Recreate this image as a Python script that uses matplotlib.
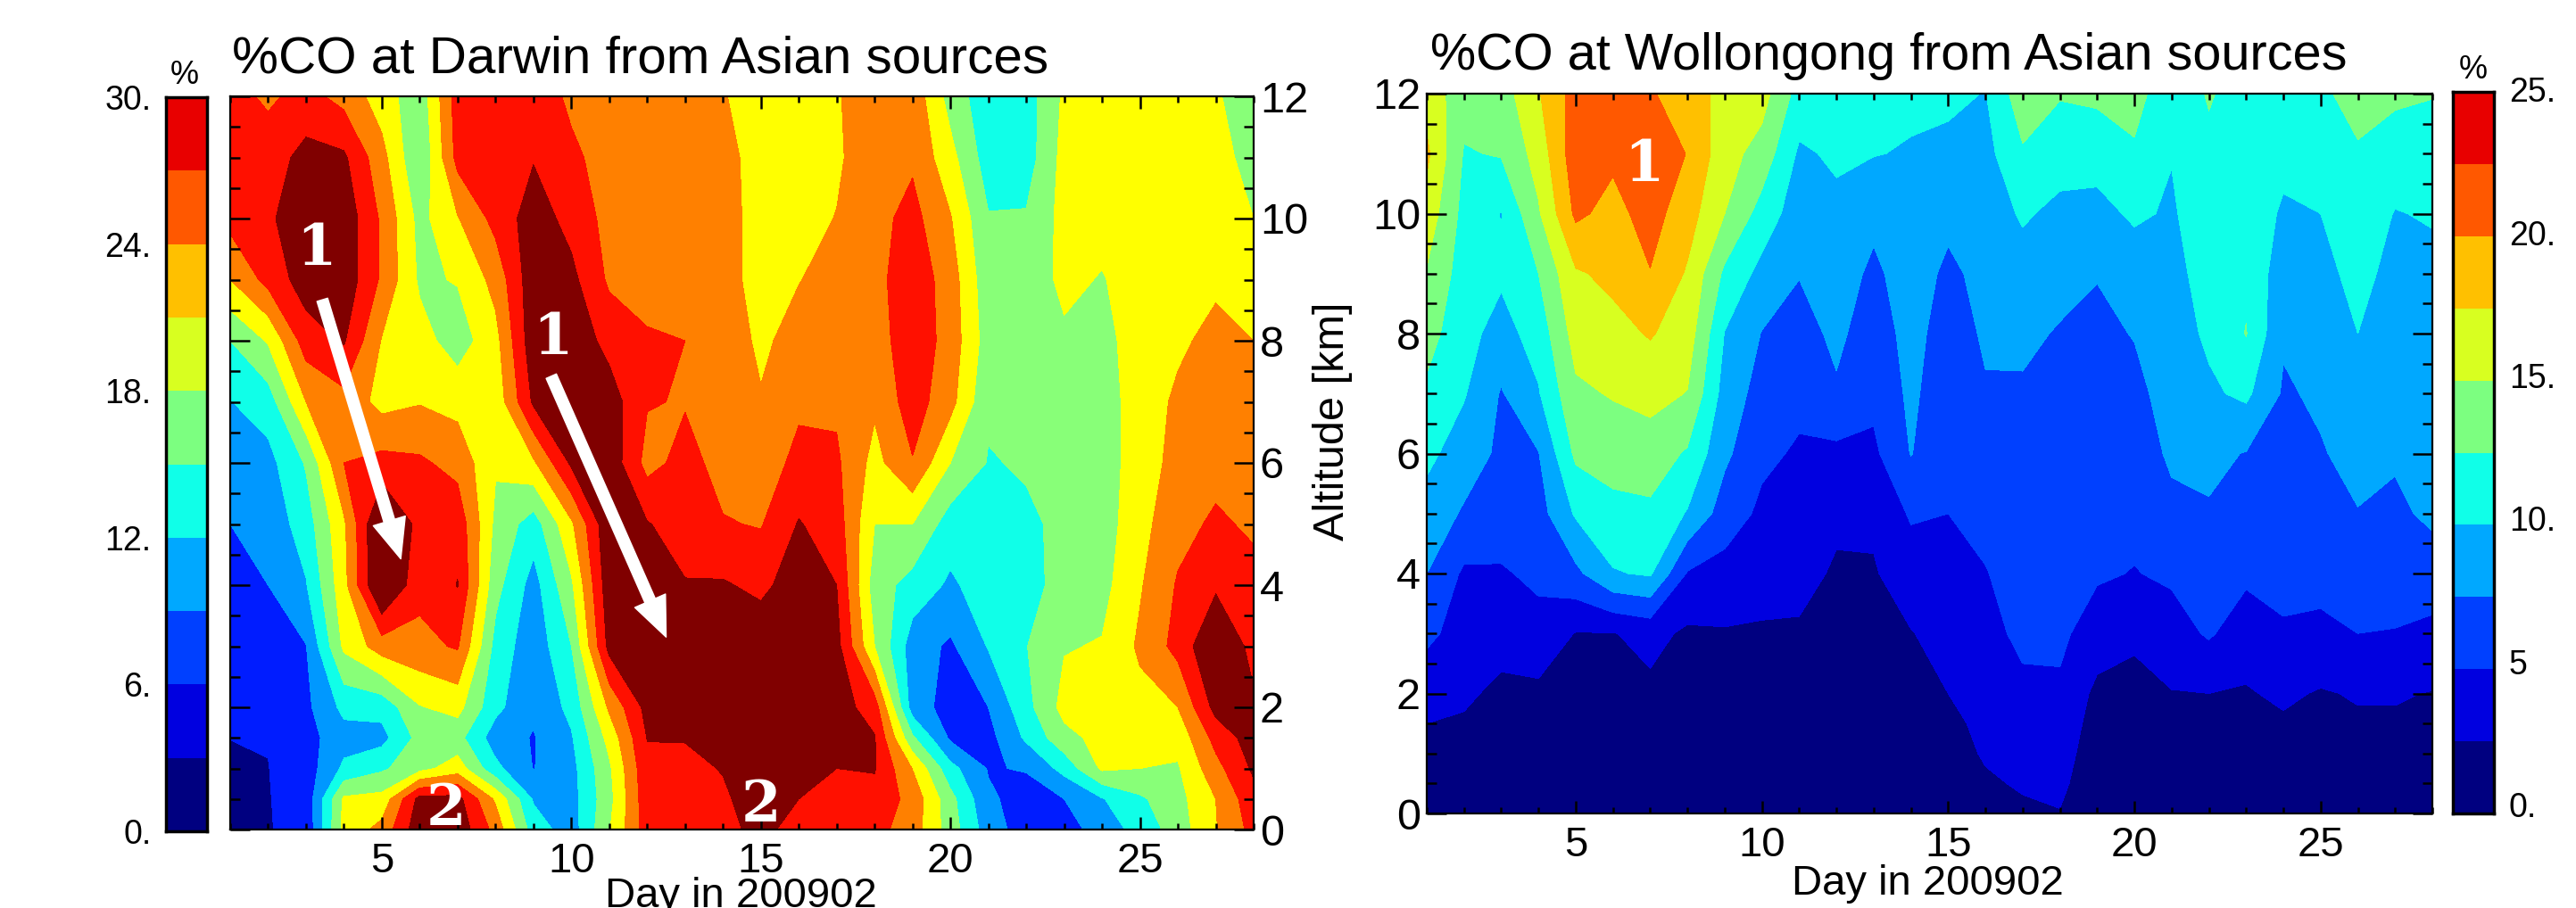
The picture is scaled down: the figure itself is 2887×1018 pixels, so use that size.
import matplotlib
matplotlib.use("Agg")
import matplotlib.pyplot as plt
from matplotlib.colors import BoundaryNorm, ListedColormap
from matplotlib.ticker import MultipleLocator
from matplotlib.transforms import ScaledTranslation
import numpy as np

plt.rcParams["font.family"] = ["Liberation Sans", "DejaVu Sans"]

W, H = 2887, 1018

days = list(range(1, 29))
altitudes = [0, 0.5, 1, 1.5, 2, 3, 4, 5, 6, 7, 8, 9, 10, 11, 12]

# one row per day, bottom to top
darwin_by_day = [
    [1, 1.5, 2.2, 3.05, 3.5, 4.2, 5, 6, 7.5, 8.9, 12, 18, 22, 23, 22],
    [2.9, 2.9, 2.95, 3.1, 4.4, 5.2, 6, 7, 8, 10.5, 15.3, 22, 23.5, 22.5, 20.5],
    [3.6, 4, 4.4, 4.9, 5.3, 5.9, 8.8, 10.5, 12.3, 18, 22.5, 25.5, 26, 25, 22],
    [16, 15.5, 9.6, 7.8, 9.8, 15.6, 17, 17.5, 21, 20, 24.3, 26, 26, 24.5, 20],
    [19, 16, 11.5, 8, 10, 19.5, 28, 28, 22, 17, 17.8, 20.5, 20.5, 19, 16.5],
    [26, 25, 14, 13, 14.8, 20.2, 21.8, 23, 21.5, 17.8, 16.2, 14.5, 14, 12.1, 13],
    [26, 25, 16.5, 13, 16, 21.3, 24.1, 23, 20, 17, 13.5, 15.2, 17.8, 22, 22.5],
    [20, 17.5, 9.8, 7.5, 9.8, 11, 13, 14.3, 15.3, 16, 17, 19, 22, 23, 23],
    [10.5, 8.7, 5.9, 5.8, 6.5, 7, 7.8, 10.5, 17.5, 24.5, 26, 26, 25.5, 23.8, 22.5],
    [7.5, 7.8, 8, 8.7, 9.8, 12, 14.5, 17.5, 24.5, 26, 26, 24.8, 23, 21.5, 20.5],
    [14.8, 14, 14.5, 16, 18.5, 25, 26, 26.5, 26, 25.5, 23, 20.5, 20, 20, 20],
    [22.5, 23, 23.3, 24.1, 25, 26, 26, 24.2, 20, 21.2, 21.3, 20, 19.5, 19.5, 19.5],
    [22.5, 23, 23.5, 24.1, 25, 25.5, 24.2, 22.5, 22, 20.8, 21, 20, 19.5, 19.5, 19.5],
    [23.5, 23.7, 24.1, 25, 25.5, 25.5, 24.3, 21.2, 20, 19.5, 19.5, 19, 19, 18.8, 18.2],
    [24.5, 25, 25.5, 25.5, 26, 26, 23.3, 20.8, 19.5, 18.2, 17.5, 17, 17, 17, 16.5],
    [23.3, 24, 25, 25.5, 26, 26, 25.5, 24.2, 21.8, 20.5, 19, 17.9, 17, 16.5, 16.5],
    [22.5, 23, 24, 25, 25.5, 25, 24, 22.5, 21.5, 20.5, 19.7, 19, 18.1, 17.5, 17.7],
    [22, 23, 24.2, 24.2, 22.5, 15, 13.5, 15, 17, 18.5, 19.5, 20, 20, 20, 20],
    [19.5, 20, 17.9, 12.5, 7.5, 7.5, 10.8, 15, 20.8, 22.5, 23, 23, 22, 20.5, 20],
    [13.5, 13, 10, 5.5, 4.8, 5.5, 8.5, 10.5, 15, 19, 19.8, 19.5, 18.2, 16, 13.8],
    [7.5, 6.5, 5.8, 5, 6, 9.2, 10.5, 11, 11.8, 12.5, 13.5, 13, 12.2, 10.5, 10],
    [4.5, 4.8, 6.2, 9.5, 11, 11.9, 11, 11.5, 12.3, 12.1, 13.5, 13.2, 12.3, 10.5, 10.5],
    [4.5, 6, 10, 14, 16, 14.8, 13, 12.6, 13, 13.5, 14.5, 15.7, 16, 16, 15.5],
    [7.5, 8.8, 15.5, 16, 16.5, 15.2, 14, 13.5, 13.5, 13.5, 14, 14.8, 16, 16.5, 16.5],
    [10, 11.5, 15, 16, 17, 18.5, 17.7, 17, 16.5, 16.5, 16.5, 16.5, 17, 17, 17],
    [13.5, 14, 14.7, 16, 18, 22, 21.3, 20, 19, 18.5, 17.5, 17, 17, 17, 15.8],
    [17.8, 18, 20, 22, 25, 27, 23.5, 21.5, 20, 19.5, 18.8, 17.5, 16.5, 16, 15.3],
    [22, 23, 24.5, 25.5, 24.5, 23, 22, 20.5, 19.5, 18.8, 18, 17, 15, 14, 13.5],
]

wollongong_by_day = [
    [1.5, 1.8, 2, 2.5, 3.3, 5.6, 7.5, 9, 10.6, 12, 13.5, 14.8, 16.5, 18, 16.5],
    [1.5, 1.7, 2, 2.3, 2.8, 3.9, 4.6, 7.2, 8.8, 10.2, 10.8, 11.3, 11.7, 12.3, 13.5],
    [1.2, 1.3, 1.5, 1.7, 2.1, 3.2, 4.7, 6.5, 7, 7.3, 9.1, 10.4, 9.9, 12.7, 13.8],
    [1.2, 1.4, 1.6, 1.8, 2, 4, 5.6, 6.5, 7.4, 9.8, 11, 12.5, 14.7, 16, 17.3],
    [1, 1.1, 1.3, 1.6, 2, 2.4, 6.9, 10.3, 13, 14.5, 16, 17.2, 20.5, 21.5, 21],
    [1, 1.1, 1.3, 1.6, 1.9, 2.4, 9.8, 11.8, 13.5, 15.2, 16.7, 18.1, 19.2, 20.5, 21.5],
    [1.1, 1.2, 1.4, 1.7, 2, 3.2, 10.3, 12, 13.8, 15.8, 17.7, 19.9, 21, 21.8, 20.2],
    [0.9, 1, 1.2, 1.5, 1.9, 2.1, 4.8, 9.8, 12.2, 14.9, 16.3, 17.2, 18.6, 19.9, 19],
    [0.9, 1, 1.2, 1.5, 1.8, 2.3, 4.1, 6.3, 8, 9, 9.9, 12, 15, 16, 16.5],
    [1, 1.1, 1.3, 1.6, 1.9, 2.3, 3.2, 4.5, 5.5, 6.5, 7.4, 9.2, 11.5, 14, 16],
    [1, 1.1, 1.3, 1.6, 2, 2.3, 3, 4.3, 4.7, 5.6, 6.6, 7.6, 8.6, 9.6, 11.5],
    [1, 1.1, 1.3, 1.6, 1.9, 2.1, 2.3, 2.8, 4.4, 7.2, 8, 8.7, 9.4, 10.4, 11.5],
    [1, 1.1, 1.3, 1.6, 1.9, 2.1, 2.3, 2.9, 4.5, 5.6, 6.3, 7, 8.1, 10.1, 11.5],
    [0.9, 1, 1.2, 1.4, 1.8, 2.4, 3.7, 5.3, 7.6, 8, 8.3, 8.7, 9.2, 9.8, 10.5],
    [0.9, 1, 1.3, 1.8, 2.5, 3.3, 4.2, 5, 5.5, 5.9, 6.4, 7, 8.1, 9.3, 10.6],
    [1.5, 2.1, 2.8, 3.2, 3.6, 4.3, 4.9, 5.6, 6.4, 7.3, 7.8, 8.2, 8.7, 9.2, 9.9],
    [2, 2.8, 3.5, 4, 4.5, 5.5, 5.9, 6.2, 6.7, 7.2, 8, 9, 10.3, 12.2, 14],
    [2.4, 3, 3.5, 4, 4.6, 5.5, 5.8, 6.1, 6.5, 6.9, 7.3, 8.3, 9.4, 11, 12.7],
    [0.8, 1, 1.2, 1.5, 1.9, 3.8, 5.3, 5.8, 6.2, 6.6, 7, 7.6, 9.2, 11, 13],
    [0.7, 0.9, 1.1, 1.4, 1.8, 2.9, 4.9, 5.6, 6.2, 6.9, 7.6, 8.6, 10.4, 12.2, 13.3],
    [0.8, 1, 1.3, 1.8, 2.4, 3.9, 5.4, 6.9, 7.9, 8.4, 8.9, 9.3, 9.7, 10.1, 11],
    [0.9, 1.1, 1.3, 1.8, 2.5, 5.3, 6, 7.3, 8, 9.6, 10.4, 10.9, 11.5, 12, 12.7],
    [1, 1.2, 1.4, 1.9, 2.3, 3.6, 5.5, 6.7, 7.4, 10.5, 12.6, 12, 11.8, 11.5, 11.5],
    [1.2, 1.4, 1.8, 2.2, 2.9, 4.8, 5.5, 6, 6.6, 7.2, 7.8, 8.6, 9.6, 10.8, 11.8],
    [1.1, 1.3, 1.7, 2, 2.3, 4.5, 5.7, 6.5, 7.3, 7.9, 8.5, 9.3, 10, 11, 12],
    [1.1, 1.4, 1.8, 2.2, 2.7, 5, 6, 7.4, 8.3, 9.1, 10, 10.7, 11.3, 12.2, 13.5],
    [1.1, 1.4, 1.8, 2.2, 2.7, 4.9, 6, 7, 7.8, 8.3, 8.8, 9.3, 9.9, 11.2, 13],
    [1, 1.4, 1.8, 2.1, 2.4, 4.4, 6.3, 8, 8.4, 8.7, 9.1, 9.4, 10.2, 11.5, 12.6],
]

darwin_levels = [0, 3, 6, 9, 12, 15, 18, 21, 24, 30]
darwin_colors = ["#000080", "#001cff", "#0098ff", "#10ffe8", "#88ff78",
                 "#ffff00", "#ff8000", "#ff1000", "#800000"]
wollongong_levels = [0, 2.5, 5, 7.5, 10, 12.5, 15, 17.5, 20, 22.5, 25]
darwin_bar_levels = [0, 3, 6, 9, 12, 15, 18, 21, 24, 27, 30]
bar_colors = ["#000080", "#0000e0", "#0040ff", "#00a8ff", "#10ffe8",
              "#7cff80", "#d8ff20", "#ffc000", "#ff5800", "#e80000"]

darwin_bar_ticks = [0, 6, 12, 18, 24, 30]
wollongong_bar_ticks = [0, 5, 10, 15, 20, 25]
wollongong_bar_labels = ["0.", "5", "10.", "15.", "20.", "25."]


def box(x0, y0, x1, y1):
    """Axes rectangle from pixel corners of the picture (y counted from the top)."""
    return [x0 / W, 1 - y1 / H, (x1 - x0) / W, (y1 - y0) / H]


def panel(fig, rect, values, levels, colors):
    ax = fig.add_axes(box(*rect))
    z = np.array(values).T
    ax.contourf(days, altitudes, z, levels=levels, colors=colors)
    ax.set_xlim(1, 28)
    ax.set_ylim(0, 12)
    ax.xaxis.set_major_locator(MultipleLocator(5))
    ax.xaxis.set_minor_locator(MultipleLocator(1))
    ax.yaxis.set_major_locator(MultipleLocator(2))
    ax.yaxis.set_minor_locator(MultipleLocator(0.5))
    ax.tick_params(which="both", direction="in", top=True, right=True, width=1.8)
    ax.tick_params(axis="x", which="major", length=10, labelsize=34, pad=10)
    ax.tick_params(axis="x", which="minor", length=5)
    ax.tick_params(axis="y", which="major", length=16, labelsize=35, pad=5)
    ax.tick_params(axis="y", which="minor", length=8)
    for side in ax.spines.values():
        side.set_linewidth(1.6)
    return ax


def color_bar(fig, rect, levels, colors):
    cax = fig.add_axes(box(*rect))
    edges = np.array(levels)
    cax.pcolormesh([0, 1], edges, ((edges[:-1] + edges[1:]) / 2)[:, None],
                   cmap=ListedColormap(colors), norm=BoundaryNorm(edges, len(colors)))
    cax.set_xticks([])
    for side in cax.spines.values():
        side.set_linewidth(2.5)
    return cax


def arrow(ax, tail, tip):
    ax.annotate("", xy=tip, xytext=tail,
                arrowprops=dict(facecolor="white", edgecolor="white", width=9,
                                headwidth=27, headlength=32, shrink=0))


def mark(ax, x, y, s):
    ax.text(x, y, s, color="white", fontsize=46, fontweight="bold", family="DejaVu Serif",
            ha="center", va="center")


fig = plt.figure(figsize=(W / 100, H / 100), dpi=100)

# Darwin
ax1 = panel(fig, (258, 108, 1405, 930), darwin_by_day, darwin_levels, darwin_colors)
ax1.yaxis.tick_right()
ax1.tick_params(which="both", left=True, right=True)
arrow(ax1, (3.43, 8.67), (5.5, 4.43))
arrow(ax1, (9.47, 7.42), (12.5, 3.15))
mark(ax1, 3.28, 9.5, "1")
mark(ax1, 9.5, 8.03, "1")
mark(ax1, 6.7, 0.33, "2")
mark(ax1, 15, 0.38, "2")

cax1 = color_bar(fig, (186, 109, 232, 932), darwin_bar_levels, bar_colors)
cax1.set_yticks(darwin_bar_ticks)
cax1.set_yticklabels([f"{t}." for t in darwin_bar_ticks], fontsize=27)
cax1.tick_params(axis="y", length=0, pad=12)

# Wollongong
ax2 = panel(fig, (1599, 105, 2726, 912), wollongong_by_day, wollongong_levels, bar_colors)
mark(ax2, 6.84, 10.8, "1")

cax2 = color_bar(fig, (2749, 103, 2795, 912), wollongong_levels, bar_colors)
cax2.yaxis.tick_right()
cax2.set_yticks(wollongong_bar_ticks)
cax2.set_yticklabels(wollongong_bar_labels, fontsize=27)
cax2.tick_params(axis="y", length=0, pad=12)
# labels in the original sit a little above their level, more so near the bottom
for label, t in zip(cax2.get_yticklabels(), wollongong_bar_ticks):
    label.set_transform(label.get_transform() + ScaledTranslation(
        0, (10 - t * 0.3) / 100, fig.dpi_scale_trans))

fig.text(260 / W, 1 - 81 / H, "%CO at Darwin from Asian sources", fontsize=42, va="baseline")
fig.text(1603 / W, 1 - 78 / H, "%CO at Wollongong from Asian sources", fontsize=41.5, va="baseline")
fig.text(207 / W, 1 - 84 / H, "%", fontsize=26, ha="center", va="center")
fig.text(2772 / W, 1 - 78 / H, "%", fontsize=26, ha="center", va="center")
# the lower edge of the picture trims this label in the original too
fig.text(830 / W, 1 - 1017 / H, "Day in 200902", fontsize=34, ha="center", va="baseline")
fig.text(2160 / W, 1 - 1003 / H, "Day in 200902", fontsize=34, ha="center", va="baseline")
fig.text(1493 / W, 1 - 472 / H, "Altitude [km]", fontsize=35, rotation=90, ha="center", va="center")

fig.savefig("out.png", dpi=100)
